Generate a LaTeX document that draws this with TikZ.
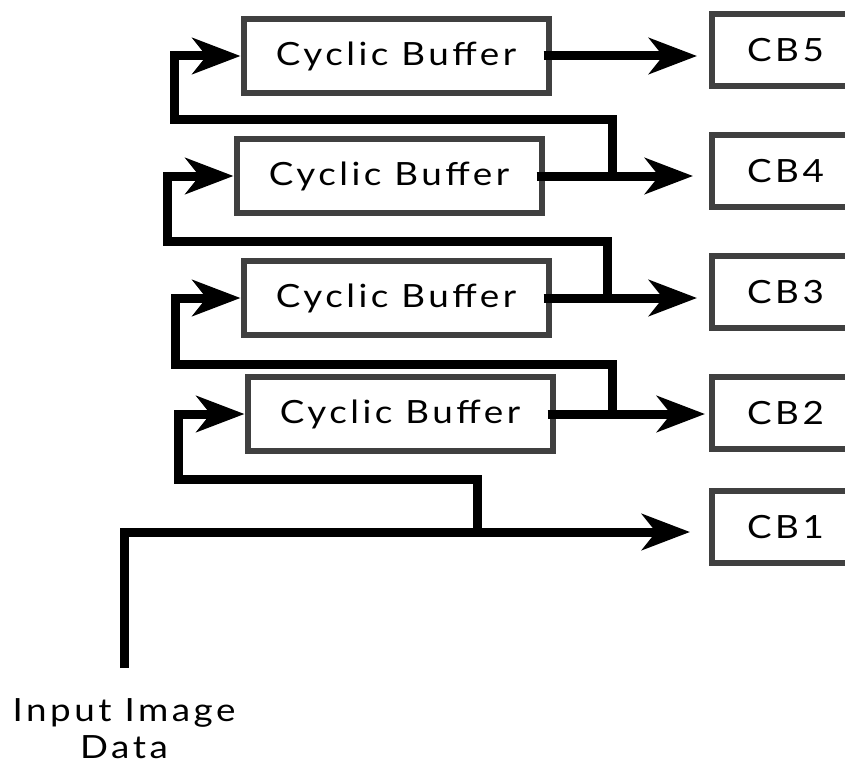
\documentclass[tikz,border=0pt]{standalone}
\usepackage{fontspec}
\setmainfont{Lato}
\newfontfamily\labelfont{Lato}[FakeStretch=1.15, LetterSpace=11]
\usetikzlibrary{arrows.meta}
\definecolor{boxgray}{HTML}{404040}
\begin{document}
\begin{tikzpicture}[x=1pt,y=-1pt,
  buf/.style={draw=boxgray, line width=6pt, minimum width=305pt, minimum height=74pt,
    inner sep=0pt, font=\labelfont\fontsize{32}{38}\selectfont},
  cbbox/.style={draw=boxgray, line width=6pt, minimum width=147pt, minimum height=72pt,
    inner sep=0pt, font=\labelfont\fontsize{32}{38}\selectfont},
  wire/.style={line width=9pt, line join=miter, draw=black},
  feed/.style={wire, -{Stealth[length=48pt,width=36pt,inset=14pt]}},
  label/.style={align=center, inner sep=0pt, font=\labelfont\fontsize{32}{37}\selectfont}]
\useasboundingbox (0,0) rectangle (845,765);
\clip (0,0) rectangle (845,765);

% buffer stages
\node[buf] (b1) at (396,56) {Cyclic Buffer};
\node[buf] (b2) at (389,176) {Cyclic Buffer};
\node[buf] (b3) at (396,298) {Cyclic Buffer};
\node[buf] (b4) at (400,414) {Cyclic Buffer};

% outputs (their right sides run past the frame)
\node[cbbox] (cb5) at (785.5,50) {CB5};
\node[cbbox] (cb4) at (785.5,171) {CB4};
\node[cbbox] (cb3) at (785.5,292) {CB3};
\node[cbbox] (cb2) at (785.5,413) {CB2};
\node[cbbox] (cb1) at (785.5,527) {CB1};

% input
\node[label, anchor=north] (in) at (124,698) {Input Image\\Data};

% endpoints and branch points
\coordinate (src) at (124.5,668);
\coordinate (t1) at (690,532);
\coordinate (t2) at (705,414);
\coordinate (t3) at (697,298);
\coordinate (t4) at (693,176);
\coordinate (t5) at (697,56);
\coordinate (j1) at (477,532);
\coordinate (j2) at (612,414);
\coordinate (j3) at (607,298);
\coordinate (j4) at (612,176);

% main input line
\draw[feed] (src) |- (t1);

% buffer outputs
\draw[feed] ([xshift=-8pt]b4.east) -- (t2);
\draw[feed] ([xshift=-8pt]b3.east) -- (t3);
\draw[feed] ([xshift=-8pt]b2.east) -- (t4);
\draw[feed] ([xshift=-8pt]b1.east) -- (t5);

% feedback loops into the next stage
\draw[feed] (j1) -- (477,479) -- (178,479) |- (b4.west);
\draw[feed] (j2) -- (612,364) -- (175,364) |- (b3.west);
\draw[feed] (j3) -- (607,241) -- (167.5,241) |- (b2.west);
\draw[feed] (j4) -- (612,119.5) -- (174.5,119.5) |- (b1.west);
\end{tikzpicture}
\end{document}
